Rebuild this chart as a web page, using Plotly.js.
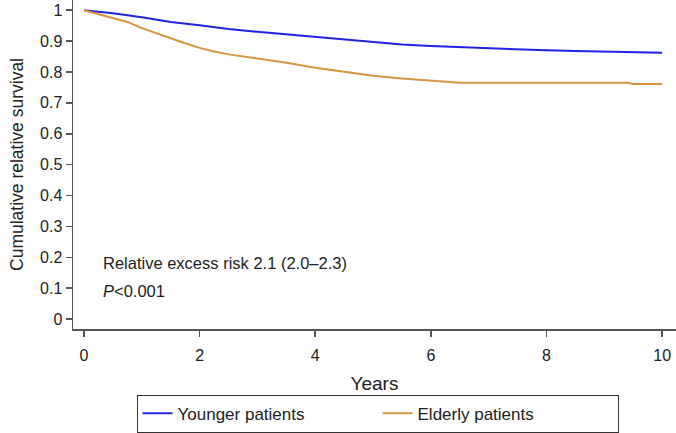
<!DOCTYPE html>
<html>
<head>
<meta charset="utf-8">
<script src="https://cdn.plot.ly/plotly-3.0.1.min.js"></script>
<style>html,body{margin:0;padding:0;background:#fff;}#chart{width:676px;height:433px;}</style>
</head>
<body>
<div id="chart"></div>
<script>
// Data
const youngerYears = [0, 0.5, 1, 1.5, 2, 2.5, 3, 3.5, 4, 4.5, 5, 5.5, 6, 6.5, 7, 7.5, 8, 8.5, 9, 9.5, 10];
const youngerSurvival = [1.0, 0.99, 0.977, 0.962, 0.951, 0.939, 0.930, 0.922, 0.913, 0.904, 0.896, 0.889, 0.884, 0.880, 0.876, 0.872, 0.870, 0.868, 0.866, 0.864, 0.862];

const elderlyYears = [0, 0.25, 0.5, 0.75, 1, 1.25, 1.5, 1.75, 2, 2.25, 2.5, 3, 3.5, 4, 4.5, 5, 5.5, 6, 6.25, 6.5, 7, 8, 9, 9.4, 9.5, 10];
const elderlySurvival = [1.0, 0.988, 0.974, 0.962, 0.942, 0.925, 0.909, 0.893, 0.878, 0.866, 0.857, 0.844, 0.830, 0.814, 0.800, 0.788, 0.779, 0.773, 0.769, 0.765, 0.765, 0.765, 0.765, 0.765, 0.761, 0.761];

const seriesNames = ["Younger patients", "Elderly patients"];
const xTickVals = [0, 2, 4, 6, 8, 10];
const yTickVals = [0, 0.1, 0.2, 0.3, 0.4, 0.5, 0.6, 0.7, 0.8, 0.9, 1];
const yTickText = ["0", "0.1", "0.2", "0.3", "0.4", "0.5", "0.6", "0.7", "0.8", "0.9", "1"];

const fam = "Liberation Sans, Arial, sans-serif";
const col = "#222";

const traces = [
  {x: youngerYears, y: youngerSurvival, name: seriesNames[0], type: "scatter", mode: "lines",
   line: {color: "#2222e6", width: 2}},
  {x: elderlyYears, y: elderlySurvival, name: seriesNames[1], type: "scatter", mode: "lines",
   line: {color: "#d6953f", width: 2}}
];

const layout = {
  width: 676, height: 433,
  margin: {l: 73, r: 0, t: 0, b: 99, pad: 0},
  paper_bgcolor: "#fff", plot_bgcolor: "#fff",
  font: {family: fam, size: 16, color: col},
  showlegend: true,
  legend: {
    orientation: "h", x: 0.505, xanchor: "center", y: -0.2, yanchor: "top",
    bordercolor: "#333", borderwidth: 1, font: {family: fam, size: 17, color: col},
    entrywidth: 195, itemwidth: 30
  },
  xaxis: {
    range: [-0.19, 10.24], tickvals: xTickVals, ticktext: xTickVals.map(String),
    showline: true, linecolor: "#555", linewidth: 1.5, showgrid: false, zeroline: false,
    ticks: "outside", ticklen: 6, tickcolor: "#555", tickwidth: 1.5, ticklabelstandoff: 5,
    tickfont: {family: fam, size: 16, color: col},
    title: {text: "Years", font: {family: fam, size: 19, color: col}, standoff: 14},
    automargin: false
  },
  yaxis: {
    range: [-0.032, 1.033], tickvals: yTickVals, ticktext: yTickText,
    showline: true, linecolor: "#555", linewidth: 1.5, showgrid: false, zeroline: false,
    ticks: "outside", ticklen: 6, tickcolor: "#555", tickwidth: 1.5,
    tickfont: {family: fam, size: 16, color: col},
    title: {text: "Cumulative relative survival", font: {family: fam, size: 17.5, color: col}, standoff: 12},
    automargin: false
  },
  annotations: [
    {x: 0.3, y: 0.181, xref: "x", yref: "y", xanchor: "left", yanchor: "middle",
     text: "Relative excess risk 2.1 (2.0–2.3)", showarrow: false, font: {family: fam, size: 16.5, color: col}},
    {x: 0.3, y: 0.092, xref: "x", yref: "y", xanchor: "left", yanchor: "middle",
     text: "<i>P</i>&lt;0.001", showarrow: false, font: {family: fam, size: 16.5, color: col}}
  ]
};

Plotly.newPlot("chart", traces, layout, {displayModeBar: false, staticPlot: true});
</script>
</body>
</html>
